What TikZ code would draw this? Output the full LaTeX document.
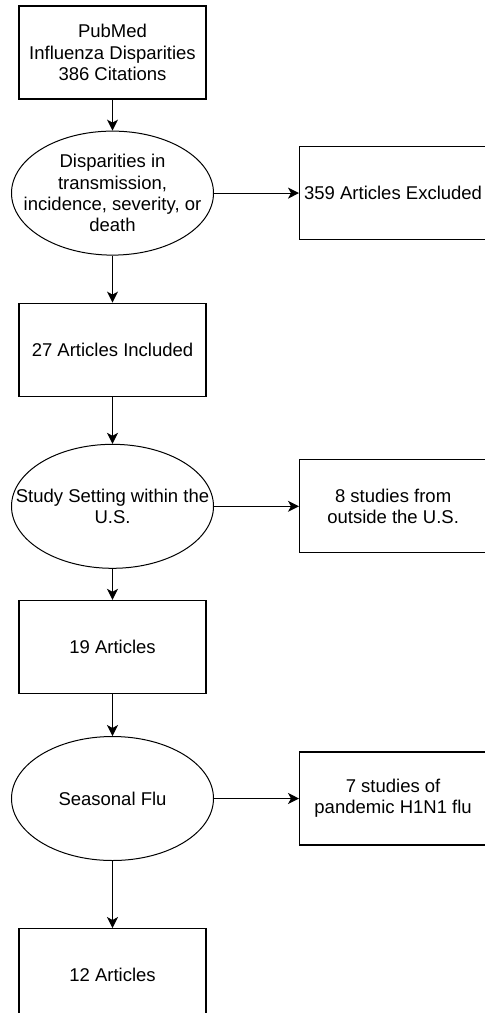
\documentclass[tikz,border=0pt]{standalone}
\usepackage{fontspec}
\setmainfont{Liberation Sans}
\usepackage{tikz}
\usetikzlibrary{arrows.meta, positioning, shapes.geometric}
\tikzset{%
	stage/.style={draw, rectangle, minimum width=187pt, minimum height=93pt,%
		inner sep=0pt, line width=1.2pt, align=center},
	check/.style={draw, ellipse, minimum width=202pt, minimum height=124pt,%
		inner sep=0pt, line width=1pt},
	txt/.style={align=center},
	flow/.style={-{Stealth[length=11pt, width=11pt, inset=3pt]}, line width=1.2pt}
}
\begin{document}
\begin{tikzpicture}[font=\fontsize{18.5}{21.3}\selectfont]
	\useasboundingbox (0,0) rectangle (485pt,-1013pt);
	\node[stage] (pubmed) at (112.5pt,-52.5pt) {PubMed\\Influenza Disparities\\386 Citations};
	\node[check, below=31pt of pubmed, label={[txt]center:{Disparities in\\transmission,\\incidence, severity, or\\death}}] (disp) {};
	\node[stage, right=85pt of disp] (excl) {359 Articles Excluded};
	\node[stage, below=47pt of disp] (incl) {27 Articles Included};
	\node[check, below=47pt of incl, label={[txt]center:{Study Setting within the\\U.S.}}] (setting) {};
	\node[stage, right=85pt of setting] (outside) {8 studies from\\outside the U.S.};
	\node[stage, below=31pt of setting] (nineteen) {19 Articles};
	\node[check, below=42pt of nineteen, label={[txt]center:{Seasonal Flu}}] (seasonal) {};
	\node[stage, right=85pt of seasonal] (pandemic) {7 studies of\\pandemic H1N1 flu};
	\node[stage, below=67pt of seasonal] (twelve) {12 Articles};
	
	\draw[flow] (pubmed) to (disp);
	\draw[flow] (disp) to (excl);
	\draw[flow] (disp) to (incl);
	\draw[flow] (incl) to (setting);
	\draw[flow] (setting) to (outside);
	\draw[flow] (setting) to (nineteen);
	\draw[flow] (nineteen) to (seasonal);
	\draw[flow] (seasonal) to (pandemic);
	\draw[flow] (seasonal) to (twelve);
\end{tikzpicture}
\end{document}
